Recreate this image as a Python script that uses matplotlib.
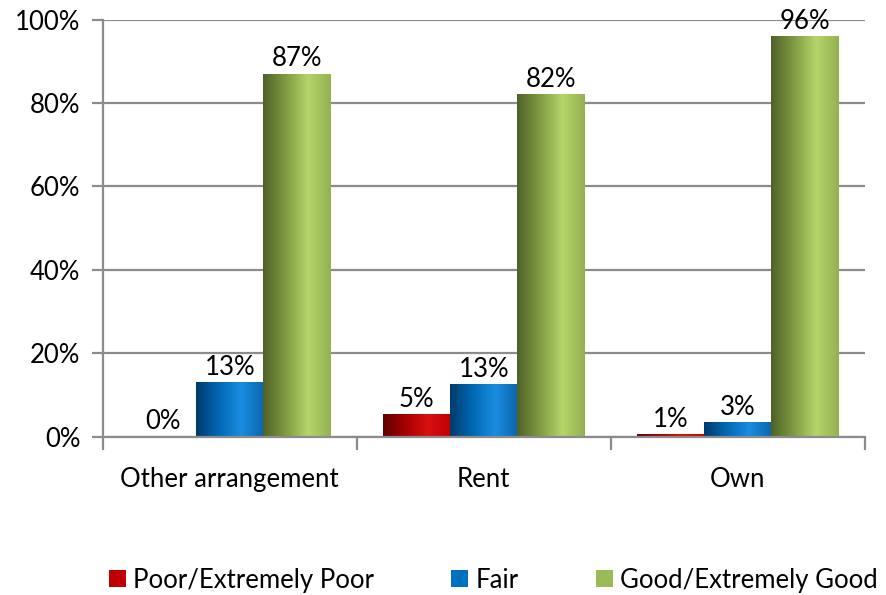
import numpy as np
import matplotlib.pyplot as plt
from matplotlib.colors import LinearSegmentedColormap
from matplotlib.patches import Patch

plt.rcParams['font.family'] = ['Lato', 'DejaVu Sans']

categories = ["Other arrangement", "Rent", "Own"]
series = ["Poor/Extremely Poor", "Fair", "Good/Extremely Good"]
poor = [0.0, 5.4, 0.6]
fair = [13.1, 12.6, 3.4]
good = [87.0, 82.0, 96.0]
labels = [["0%", "5%", "1%"], ["13%", "13%", "3%"], ["87%", "82%", "96%"]]
yticks = [0, 20, 40, 60, 80, 100]

legend_colors = ["#c00000", "#0070c0", "#9bbb59"]
# dark edge -> light highlight -> slightly darker right edge
gradients = [
    ["#5e0000", "#a80000", "#d81010", "#c00000"],
    ["#003a6a", "#0068b4", "#1a8de0", "#0a66ad"],
    ["#4f6228", "#7f9a42", "#b5d56a", "#94b150"],
]

FS = 18.5

fig = plt.figure(figsize=(8.86, 5.95), dpi=100)
ax = fig.add_axes([0.116, 0.266, 0.86, 0.701])

x = np.arange(len(categories))
w = 0.264
grey = "#8c8c8c"

ax.set_xlim(-0.5, 2.5)
ax.set_ylim(0, 100)
ax.set_yticks(yticks)
ax.set_yticklabels(["%d%%" % t for t in yticks], fontsize=FS)
ax.yaxis.grid(True, color=grey, linewidth=1.6, zorder=0)
ax.set_axisbelow(True)

for i, vals in enumerate([poor, fair, good]):
    bars = ax.bar(x + (i - 1) * w, vals, w, color="none", zorder=2)
    cmap = LinearSegmentedColormap.from_list("g%d" % i, gradients[i])
    grad = np.linspace(0, 1, 256).reshape(1, -1)
    for b, lab in zip(bars, labels[i]):
        bx, bw, bh = b.get_x(), b.get_width(), b.get_height()
        if bh > 0:
            ax.imshow(grad, cmap=cmap, extent=[bx, bx + bw, 0, bh],
                      aspect="auto", zorder=2, interpolation="bilinear")
        ax.text(bx + bw / 2, bh + 0.6, lab, ha="center", va="bottom",
                fontsize=FS, zorder=4)

ax.set_xlim(-0.5, 2.5)
ax.set_ylim(0, 100)

ax.set_xticks(x)
ax.set_xticklabels(categories, fontsize=FS)
ax.tick_params(axis="x", length=0, pad=22)
ax.set_xticks([-0.5, 0.5, 1.5, 2.5], minor=True)
ax.tick_params(axis="x", which="minor", length=9, width=1.6, color=grey)
ax.tick_params(axis="y", length=8, width=1.6, color=grey, pad=8)

for s in ["top", "right"]:
    ax.spines[s].set_visible(False)
for s in ["left", "bottom"]:
    ax.spines[s].set_color(grey)
    ax.spines[s].set_linewidth(1.6)
ax.spines["bottom"].set_zorder(3)

handles = [Patch(facecolor=c, edgecolor="none") for c in legend_colors]
fig.legend(handles, series, loc="center", bbox_to_anchor=(0.557, 0.025),
           ncol=3, frameon=False, fontsize=FS, handlelength=0.65,
           handleheight=0.65, handletextpad=0.3, columnspacing=3.0)

fig.savefig("out.png", dpi=100)
